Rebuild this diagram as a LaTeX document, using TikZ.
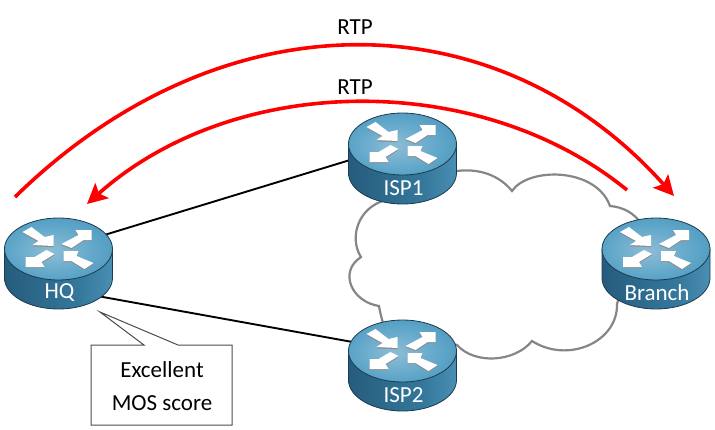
\documentclass[tikz,border=0pt]{standalone}
\usepackage{fontspec}
\setmainfont{Carlito}
\usetikzlibrary{arrows.meta}
\definecolor{routerdark}{HTML}{245A7A}
\definecolor{routermid}{HTML}{35789C}
\definecolor{routerlight}{HTML}{5BA4C8}
\definecolor{routerpale}{HTML}{8DBDD6}
\definecolor{routerline}{HTML}{1C3B50}
\definecolor{cloudgray}{HTML}{868686}
\pgfdeclarehorizontalshading{routerside}{100bp}{color(0bp)=(routerdark); color(22bp)=(routerdark); color(60bp)=(routermid); color(88bp)=(routerlight); color(94bp)=(routerlight); color(100bp)=(routermid)}
\pgfdeclareradialshading{routertop}{\pgfpoint{-4bp}{-2bp}}{color(0bp)=(routerpale); color(22bp)=(routerlight); color(50bp)=(routermid)}
\tikzset{
  routertext/.style={text=white,font=\fontsize{23}{23}\selectfont,inner sep=0pt},
  plaintext/.style={text=black,font=\fontsize{23}{23}\selectfont,inner sep=0pt},
  rtparrow/.style={draw=red,line width=3.6pt,-{Stealth[length=20pt,width=20pt,inset=4pt]}},
  pics/router/.style={code={
    % body and top
    \path[draw=routerline,line width=0.8pt,shading=routerside]
      (-54,0) -- (-54,29) .. controls (-54,46.1) and (-29.8,60) .. (0,60)
      .. controls (29.8,60) and (54,46.1) .. (54,29) -- (54,0) -- cycle;
    \path[draw=routerline,line width=0.8pt,shading=routertop] (0,0) ellipse [x radius=54pt,y radius=31pt];
    % the four arrows, shadow first
    \foreach \dy/\col in {1.2/black!45,0/white}{
      \fill[\col,shift={(0,\dy)}] (-5,-3) -- (-5,-14) -- (-14,-12) -- (-27,-22) -- (-36,-17) -- (-20,-8) -- (-26,-4) -- cycle;
      \fill[\col,shift={(0,\dy)}] (33,-19) -- (17,-19) -- (20,-14) -- (3,-5) -- (13,-1) -- (25,-9) -- (33,-9) -- cycle;
      \fill[\col,shift={(0,\dy)}] (-33,18) -- (-33,8) -- (-24,8) -- (-12,1) -- (-4,5) -- (-17,13) -- (-14,18) -- cycle;
      \fill[\col,shift={(0,\dy)}] (5,2) -- (20,2) -- (18,7) -- (35,14) -- (26,20) -- (13,12) -- (5,12) -- cycle;
    }
    \node[routertext] (-label) at (1,44) {#1};
  }}
}
\begin{document}
\begin{tikzpicture}[x=1pt,y=-1pt,>=Stealth]
\useasboundingbox (0,0) rectangle (715,429);
\coordinate (hq) at (58.5,249);
\coordinate (hqport) at (58.5,289);
\coordinate (isp1) at (402.5,144);
\coordinate (isp2) at (402.5,351);
\coordinate (branch) at (656,249);
% ---------- cloud ----------
\draw[cloudgray,line width=2.2pt] (457,171)
  .. controls (480,168) and (500,176) .. (512,191)
  .. controls (528,167) and (596,167) .. (610,206)
  .. controls (622,207) and (634,212) .. (642,225)
  -- (617,304)
  .. controls (618,342) and (568,364) .. (532,341)
  .. controls (515,362) and (475,365) .. (457,345)
  -- (383,323)
  .. controls (381,316) and (380,312) .. (379,306)
  .. controls (352,302) and (338,272) .. (361,257)
  .. controls (350,240) and (356,212) .. (380,202)
  -- cycle;
% ---------- links ----------
\draw[line width=1.9pt] (hq) -- (isp1);
\draw[line width=1.9pt] (hqport) -- (isp2);
% ---------- routers ----------
\pic (hqr) at (hq) {router=HQ};
\pic (isp1r) at (isp1) {router=ISP1};
\pic (isp2r) at (isp2) {router=ISP2};
\pic (branchr) at (branch) {router=Branch};
% ---------- RTP arcs ----------
\coordinate (rtpastart) at (15,197);
\coordinate (rtpaend) at (674,196);
\coordinate (rtpbstart) at (627,190);
\coordinate (rtpbend) at (87,204);
\draw[rtparrow] (rtpastart) .. controls (220,-4) and (495,-4) .. (rtpaend);
\draw[rtparrow] (rtpbstart) .. controls (480,70) and (235,72) .. (rtpbend);
\node[plaintext] (rtpa) at (355,27) {RTP};
\node[plaintext] (rtpb) at (355,87) {RTP};
% ---------- callout ----------
\draw[draw=black!70,fill=white,line width=1pt] (91,345) -- (144,345) -- (100,312) -- (178,345) -- (232,345) -- (232,425) -- (91,425) -- cycle;
\node[plaintext] (excellent) at (162,370) {Excellent};
\node[plaintext] (mos) at (162,403) {MOS score};
\end{tikzpicture}
\end{document}
